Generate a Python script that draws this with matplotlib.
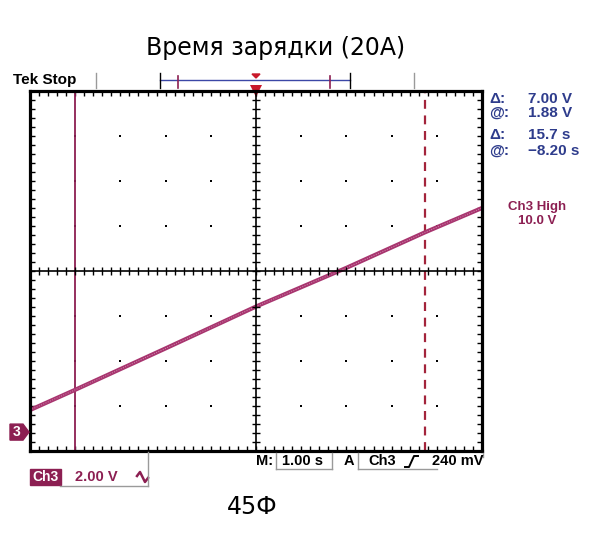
import numpy as np
import matplotlib.pyplot as plt
from matplotlib.lines import Line2D
from matplotlib.patches import Polygon, Rectangle
from matplotlib.ticker import FixedLocator

# scope settings
sec_per_div = 1.0
volt_per_div = 2.0
ground_div = -3.58          # ch3 ground marker, in divisions from centre
cursor_t = [-4.0, 3.74]     # solid / dashed time cursors (s)

# trace readings (s, V)
t = [-5.0, -4.0, -2.0, 0.0, 2.0, 3.74, 5.0]
v = [0.98, 1.88, 3.72, 5.58, 7.3, 8.88, 9.96]

readout_lbl = ["\u0394:", "@:", "\u0394:", "@:"]
readout_val = ["7.00 V", "1.88 V", "15.7 s", "\u22128.20 s"]

W, H = 590, 542
def fx(x): return x / W
def fy(y): return 1 - y / H

maroon = '#8c1f52'
trace_c = '#a8356f'
navy = '#2e3c8c'
gray = '#9a9a9a'

fig = plt.figure(figsize=(W / 100, H / 100), dpi=100)
rect = [fx(30), fy(451), (482 - 30) / W, (451 - 91) / H]
ax = fig.add_axes(rect)

x0, x1 = -5 * sec_per_div, 5 * sec_per_div
y0 = (-4 - ground_div) * volt_per_div
y1 = (4 - ground_div) * volt_per_div
yc = (y0 + y1) / 2
ax.set_xlim(x0, x1)
ax.set_ylim(y0, y1)

xt = np.linspace(x0, x1, 51)
yt = np.linspace(y0, y1, 41)
ax.xaxis.set_major_locator(FixedLocator(xt))
ax.yaxis.set_major_locator(FixedLocator(yt))
ax.tick_params(direction='in', length=3.8, width=1, top=True, right=True,
               labelbottom=False, labelleft=False, color='black')
for s in ax.spines.values():
    s.set_linewidth(2.3)

# centre cross with graticule ticks
ax2 = fig.add_axes(rect, facecolor='none')
ax2.set_xlim(x0, x1)
ax2.set_ylim(y0, y1)
ax2.spines['left'].set_position(('data', 0))
ax2.spines['bottom'].set_position(('data', yc))
ax2.spines['top'].set_visible(False)
ax2.spines['right'].set_visible(False)
for s in ('left', 'bottom'):
    ax2.spines[s].set_linewidth(1.2)
ax2.xaxis.set_major_locator(FixedLocator(xt[1:-1]))
ax2.yaxis.set_major_locator(FixedLocator(yt[1:-1]))
ax2.tick_params(direction='inout', length=6, width=1, labelbottom=False,
                labelleft=False)

# graticule dots
gx = [k * sec_per_div for k in range(-4, 5) if k != 0]
gy = [yc + k * volt_per_div for k in range(-3, 4) if k != 0]
mx, my = np.meshgrid(gx, gy)
ax.plot(mx.ravel(), my.ravel(), 's', ms=1.6, color='black', mew=0)

# cursors
ax.axvline(cursor_t[0], color=maroon, lw=1.3)
ax.axvline(cursor_t[1], color='#a3243b', lw=1.6, ls=(0, (4, 3)))

# trace
ax.plot(t, v, color=trace_c, lw=3.0, solid_capstyle='butt')
ax.plot(t, v, color='#d08aae', lw=0.7, ls=(0, (1, 1.5)))

# trigger marker on top
ax.plot([0], [y1], 'v', color='#c8182a', ms=8, clip_on=False, mew=0)

def fline(xs, ys, **kw):
    fig.add_artist(Line2D([fx(x) for x in xs], [fy(y) for y in ys], **kw))

# top status line
fig.text(fx(13), fy(80), "Tek Stop", fontsize=11, fontweight='bold',
         family='Liberation Sans', va='center', ha='left')
fline([96, 96], [73, 88], color=gray, lw=1)
fline([414, 414], [73, 88], color=gray, lw=1)
fline([160, 350], [80, 80], color='#3b47a6', lw=1)
fline([160, 160], [73, 88], color='black', lw=1)
fline([350, 350], [73, 88], color='black', lw=1)
fline([178, 178], [76, 88], color=maroon, lw=1.2)
fline([330, 330], [76, 88], color=maroon, lw=1.2)
fig.add_artist(Polygon([(fx(252), fy(74)), (fx(260), fy(74)), (fx(256), fy(78))],
                       closed=True, color='#c8182a'))

# title and footer
fig.text(fx(276), fy(48), "Время зарядки (20A)", fontsize=17,
         family='DejaVu Sans', ha='center', va='center')
fig.text(fx(252), fy(507), "45Ф", fontsize=17, family='DejaVu Sans',
         ha='center', va='center')

# right readouts
ry = [99, 113, 135, 151]
for lbl, val, yy in zip(readout_lbl, readout_val, ry):
    fig.text(fx(489), fy(yy), lbl, fontsize=11, fontweight='bold',
             family='Liberation Sans', color=navy, va='center', ha='left')
    fig.text(fx(528), fy(yy), val, fontsize=11, fontweight='bold',
             family='Liberation Sans', color=navy, va='center', ha='left')
fig.text(fx(537), fy(207), "Ch3 High", fontsize=9.5, fontweight='bold',
         family='Liberation Sans', color=maroon, va='center', ha='center')
fig.text(fx(537), fy(221), "10.0 V", fontsize=9.5, fontweight='bold',
         family='Liberation Sans', color=maroon, va='center', ha='center')

# ground marker "3"
gyp = 271 - ground_div * 45
fig.add_artist(Polygon([(fx(10), fy(gyp - 8)), (fx(23), fy(gyp - 8)),
                        (fx(29), fy(gyp)), (fx(23), fy(gyp + 8)),
                        (fx(10), fy(gyp + 8))], closed=True, color=maroon))
fig.text(fx(17), fy(gyp), "3", fontsize=10, fontweight='bold', color='white',
         family='Liberation Sans', ha='center', va='center')

# bottom-left channel readout
fig.add_artist(Rectangle((fx(30), fy(485)), 31 / W, 16 / H, color=maroon))
fig.text(fx(45.5), fy(477), "Ch3", fontsize=10, fontweight='bold', color='white',
         family='Liberation Sans', ha='center', va='center')
fig.text(fx(75), fy(477), "2.00 V", fontsize=10.5, fontweight='bold',
         color=maroon, family='Liberation Sans', ha='left', va='center')
fline([137, 140, 145, 148], [476, 472, 482, 478], color=maroon, lw=1.8)
fline([60, 148], [486, 486], color=gray, lw=1)
fline([148, 148], [452, 486], color=gray, lw=1)

# bottom-middle timebase readout
bkw = dict(fontsize=10.5, fontweight='bold', family='Liberation Sans',
           va='center', ha='left')
fig.text(fx(256), fy(461), "M:", **bkw)
fig.text(fx(282), fy(461), "1.00 s", **bkw)
fig.text(fx(344), fy(461), "A", **bkw)
fig.text(fx(368), fy(461), "Ch3", **bkw)
fig.text(fx(432), fy(461), "240 mV", **bkw)
fline([276, 276], [453, 469], color=gray, lw=1)
fline([276, 332], [469, 469], color=gray, lw=1)
fline([332, 332], [453, 469], color=gray, lw=1)
fline([358, 358], [453, 469], color=gray, lw=1)
fline([358, 437], [469, 469], color=gray, lw=1)
fline([483, 483], [453, 457], color=gray, lw=1)
fline([405, 409, 414, 418], [467, 467, 456, 456], color='black', lw=1.4)

fig.savefig('out.png', dpi=100)
